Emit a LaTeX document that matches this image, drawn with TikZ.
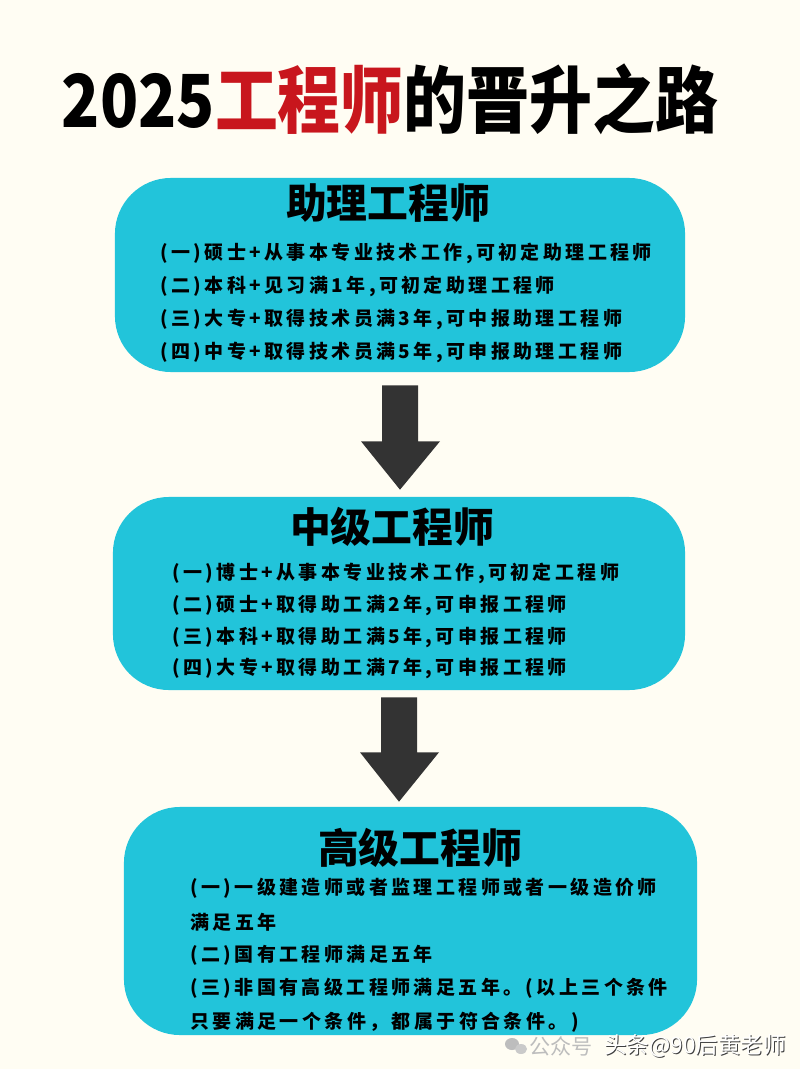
\documentclass[tikz,border=0pt]{standalone}
\usepackage{fontspec}
\setmainfont{Noto Sans CJK SC}
\usetikzlibrary{calc}
\definecolor{bgcream}{HTML}{FFFDF3}
\definecolor{stagecyan}{HTML}{22C4DA}
\definecolor{titlered}{HTML}{C8161D}
\definecolor{arrowgrey}{HTML}{333333}
\definecolor{markgrey}{HTML}{BDBDBD}
\tikzset{
  stage/.style={fill=stagecyan, rounded corners=1.4cm, inner sep=0pt},
  stagehead/.style={inner sep=0pt, font=\fontsize{29}{32}\selectfont\bfseries},
  cond/.style={anchor=west, inner sep=0pt, font=\fontsize{13.5}{16}\selectfont\bfseries\addfontfeatures{LetterSpace=18}},
  blockarr/.style={fill=arrowgrey},
  wmark/.style={inner sep=0pt, font=\fontsize{15}{18}\selectfont}
}
\begin{document}
\begin{tikzpicture}[x=0.025cm, y=-0.025cm]
\useasboundingbox (0,0) rectangle (800,1069);
\fill[bgcream] (0,0) rectangle (800,1069);

\node[inner sep=0pt, font=\fontsize{52}{56}\selectfont\bfseries] (title) at (390,99)
  {\scalebox{0.86}[1]{2025\textcolor{titlered}{工程师}的晋升之路}};

% stage 1
\node[stage, minimum width=14.25cm, minimum height=4.85cm] (b1) at (400,275) {};
\node[stagehead] (h1) at (388,203) {助理工程师};
\node[cond] (c11) at (160,253) {(一)硕士+从事本专业技术工作,可初定助理工程师};
\node[cond] (c12) at (160,286) {(二)本科+见习满1年,可初定助理工程师};
\node[cond] (c13) at (160,319) {(三)大专+取得技术员满3年,可中报助理工程师};
\node[cond] (c14) at (160,352) {(四)中专+取得技术员满5年,可申报助理工程师};

% stage 2
\node[stage, minimum width=14.3cm, minimum height=4.825cm] (b2) at (399,593.5) {};
\node[stagehead] (h2) at (392,527) {中级工程师};
\node[cond] (c21) at (172,573) {(一)博士+从事本专业技术工作,可初定工程师};
\node[cond] (c22) at (172,605) {(二)硕士+取得助工满2年,可申报工程师};
\node[cond] (c23) at (172,637) {(三)本科+取得助工满5年,可申报工程师};
\node[cond] (c24) at (172,668) {(四)大专+取得助工满7年,可申报工程师};

% stage 3
\node[stage, minimum width=14.325cm, minimum height=5.7cm] (b3) at (410.5,921) {};
\node[stagehead] (h3) at (420,848) {高级工程师};
\node[cond] (c31) at (190,888) {(一)一级建造师或者监理工程师或者一级造价师};
\node[cond] (c32) at (190,922) {满足五年};
\node[cond] (c33) at (190,955) {(二)国有工程师满足五年};
\node[cond] (c34) at (190,988) {(三)非国有高级工程师满足五年。(以上三个条件};
\node[cond] (c35) at (190,1022) {只要满足一个条件，都属于符合条件。)};

% arrows
\fill[blockarr] ($(b1.south)+(-18,13)$) -- ++(36,0) -- ++(0,56) -- ++(22,0)
  -- ($(b1.south |- b2.north)+(0,-7)$) -- ($(b1.south)+(-39,69)$) -- ++(21,0) -- cycle;
\fill[blockarr] ($(b2.south)+(-18,7)$) -- ++(36,0) -- ++(0,55) -- ++(22,0)
  -- ($(b2.south |- b3.north)+(0,-5)$) -- ($(b2.south)+(-39,62)$) -- ++(21,0) -- cycle;

% watermark
\fill[markgrey] (512,1044) ellipse (7 and 6);
\fill[markgrey!80!white] (521,1049) ellipse (6 and 5);
\node[wmark, text=markgrey] (gzh) at (561,1046) {公众号};
\node[wmark, text=black!75, font=\fontsize{16}{18}\selectfont] (tt0) at (696,1047) {头条@90后黄老师};
\node[wmark, text=white, font=\fontsize{16}{18}\selectfont] (tt) at (695,1046) {头条@90后黄老师};
\end{tikzpicture}
\end{document}
